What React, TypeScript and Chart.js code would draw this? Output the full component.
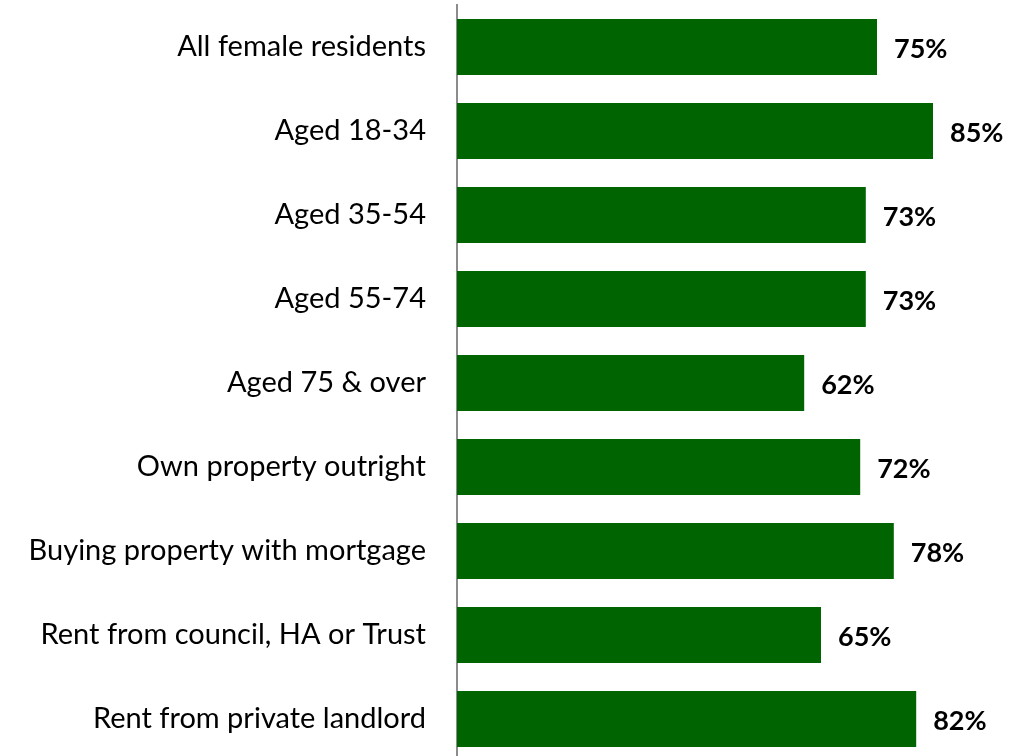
import React, { useEffect, useRef } from "react";
import { Chart, registerables } from "chart.js";

Chart.register(...registerables);

const categories = [
  "All female residents",
  "Aged 18-34",
  "Aged 35-54",
  "Aged 55-74",
  "Aged 75 & over",
  "Own property outright",
  "Buying property with mortgage",
  "Rent from council, HA or Trust",
  "Rent from private landlord",
];
const values = [75, 85, 73, 73, 62, 72, 78, 65, 82];

const FONT = "Lato, 'Open Sans', sans-serif";

const valueLabels = {
  id: "valueLabels",
  afterDatasetsDraw(chart: any) {
    const ctx = chart.ctx;
    const meta = chart.getDatasetMeta(0);
    ctx.save();
    ctx.fillStyle = "#000";
    ctx.font = `bold 27px ${FONT}`;
    ctx.textAlign = "left";
    ctx.textBaseline = "middle";
    meta.data.forEach((bar: any, i: number) => {
      ctx.fillText(`${values[i]}%`, bar.x + 17, bar.y + 2);
    });
    ctx.restore();
  },
};

export default function App() {
  const ref = useRef<HTMLCanvasElement>(null);
  useEffect(() => {
    document.body.style.margin = "0";
    const chart = new Chart(ref.current!, {
      type: "bar",
      data: {
        labels: categories,
        datasets: [
          {
            data: values,
            backgroundColor: "#006400",
            categoryPercentage: 1,
            barPercentage: 0.667,
          },
        ],
      },
      options: {
        indexAxis: "y",
        animation: false,
        responsive: false,
        layout: { padding: { top: 5, right: 8, bottom: 0, left: 0 } },
        plugins: { legend: { display: false }, tooltip: { enabled: false } },
        scales: {
          x: { display: false, min: 0, max: 100 },
          y: {
            grid: { display: false },
            border: { display: true, color: "#8c8c8c", width: 2 },
            ticks: {
              color: "#000",
              padding: 23,
              font: { family: FONT, size: 29 },
            },
            afterFit(scale: any) {
              scale.width = 457;
              scale.paddingTop = 0;
              scale.paddingBottom = 0;
            },
          },
        },
      },
      plugins: [valueLabels],
    });
    return () => chart.destroy();
  }, []);
  return (
    <div style={{ width: 1025, height: 761 }}>
      <canvas ref={ref} width={1025} height={761} style={{ display: "block" }} />
    </div>
  );
}
